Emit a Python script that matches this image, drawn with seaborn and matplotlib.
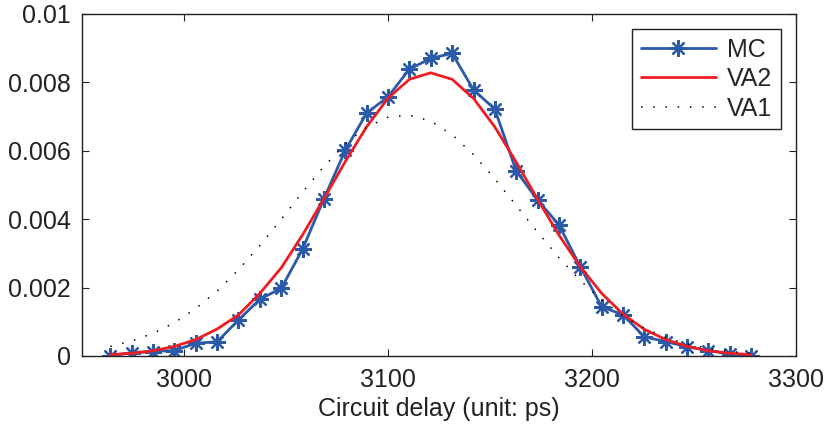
import matplotlib
matplotlib.use("Agg")
import matplotlib.pyplot as plt
import seaborn as sns
import pandas as pd

delay = [2964.0, 2974.5, 2984.9, 2995.4, 3005.9, 3016.4, 3026.8, 3037.3, 3047.8, 3058.2,
         3068.7, 3079.2, 3089.6, 3100.1, 3110.6, 3121.0, 3131.5, 3142.0, 3152.4, 3162.9,
         3173.4, 3183.9, 3194.3, 3204.8, 3215.3, 3225.7, 3236.2, 3246.7, 3257.1, 3267.6, 3278.1]
mc = [0.0, 0.00010, 0.00013, 0.00016, 0.00037, 0.00042, 0.00105, 0.00166, 0.00198, 0.00312,
      0.00460, 0.00602, 0.00710, 0.00758, 0.00839, 0.00870, 0.00885, 0.00778, 0.00722, 0.00541,
      0.00456, 0.00383, 0.00261, 0.00144, 0.00120, 0.00056, 0.00042, 0.00027, 0.00016, 0.00006, 0.0]
va2 = [0.00004, 0.00008, 0.00015, 0.00028, 0.00048, 0.00079, 0.00120, 0.00183, 0.00258, 0.00354,
       0.00460, 0.00569, 0.00670, 0.00754, 0.00809, 0.00828, 0.00809, 0.00753, 0.00670, 0.00567,
       0.00458, 0.00353, 0.00261, 0.00183, 0.00122, 0.00078, 0.00048, 0.00028, 0.00015, 0.00008, 0.00004]
va1 = [0.00028, 0.00044, 0.00066, 0.00097, 0.00139, 0.00190, 0.00252, 0.00323, 0.00400, 0.00479,
       0.00554, 0.00620, 0.00669, 0.00698, 0.00704, 0.00687, 0.00647, 0.00589, 0.00518, 0.00440,
       0.00362, 0.00287, 0.00221, 0.00163, 0.00117, 0.00081, 0.00054, 0.00035, 0.00022, 0.00013, 0.00008]

xticks = [3000, 3100, 3200, 3300]
yticks = [0, 0.002, 0.004, 0.006, 0.008, 0.01]
ytick_labels = ["0", "0.002", "0.004", "0.006", "0.008", "0.01"]

sns.set_style("white")
plt.rcParams['font.family'] = ['Liberation Sans', 'DejaVu Sans']

df = pd.DataFrame({"delay": delay, "MC": mc, "VA2": va2, "VA1": va1})

fig = plt.figure(figsize=(8.27, 4.25), dpi=100)
ax = fig.add_axes([0.0988, 0.1624, 0.8637, 0.8047])

sns.lineplot(data=df, x="delay", y="MC", ax=ax, color="#2b5aa8", lw=2.0,
             marker=(8, 2, 0), markersize=12, markeredgewidth=1.6,
             markeredgecolor="#2b5aa8", label="MC")
sns.lineplot(data=df, x="delay", y="VA2", ax=ax, color="#ee1d23", lw=2.0, label="VA2")
sns.lineplot(data=df, x="delay", y="VA1", ax=ax, color="black", lw=1.1,
             linestyle=(0, (1, 7)), label="VA1")

ax.set_xlim(2950, 3300)
ax.set_ylim(0, 0.01)
ax.set_xticks(xticks)
ax.set_xticklabels([str(t) for t in xticks])
ax.set_yticks(yticks)
ax.set_yticklabels(ytick_labels)
ax.tick_params(axis="both", direction="in", length=5, width=0.8, labelsize=18,
               top=True, right=True, bottom=True, left=True, colors="#222222",
               labelcolor="#222222")
ax.tick_params(axis="x", pad=9)
ax.tick_params(axis="y", pad=8)
for s in ax.spines.values():
    s.set_visible(True)
    s.set_color("#222222")
    s.set_linewidth(1.0)
ax.set_xlabel("Circuit delay (unit: ps)", fontsize=18, color="#222222", labelpad=3)
ax.set_ylabel("")

leg = ax.legend(loc="upper right", fontsize=18, handlelength=3.0, frameon=True,
                fancybox=False, framealpha=1, edgecolor="#222222",
                borderaxespad=0.6, labelspacing=0.22, handletextpad=0.45,
                borderpad=0.35)
leg.get_frame().set_linewidth(1.0)

fig.savefig("out.png", dpi=100)
